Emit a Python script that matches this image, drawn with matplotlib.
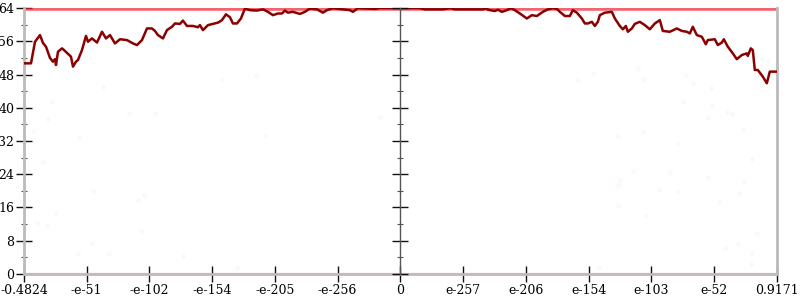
import numpy as np
import matplotlib
matplotlib.use("Agg")
import matplotlib.pyplot as plt
from matplotlib.ticker import MultipleLocator

# x positions are in tick-slot units (-6 .. 6), labels are the original strings
tick_pos = [-6, -5, -4, -3, -2, -1, 0, 1, 2, 3, 4, 5, 6]
tick_labels = ["-0.4824", "-e-51", "-e-102", "-e-154", "-e-205", "-e-256", "0",
               "e-257", "e-206", "e-154", "e-103", "e-52", "0.9171"]

# main dark-red line (x in pixels of the original)
line_px = [24, 31, 35, 40, 43, 46, 50, 53, 55, 56, 58, 62, 64, 67, 71, 73, 76, 78,
           82, 86, 88, 92, 97, 102, 106, 110, 115, 120, 127, 133, 137, 142, 147,
           152, 155, 158, 163, 167, 172, 175, 180, 183, 187, 193, 198, 200, 203,
           208, 213, 218, 222, 226, 230, 233, 237, 241, 245, 250, 257, 263, 268,
           273, 278, 282, 285, 288, 293, 300, 305, 310, 317, 323, 327, 333, 350,
           353, 358, 375, 380, 400, 420, 425, 433, 443, 450, 455, 477, 483, 487,
           488, 495, 498, 502, 507, 511, 515, 520, 527, 532, 537, 543, 548, 553,
           557, 560, 565, 570, 573, 577, 582, 585, 588, 592, 595, 598, 600, 605,
           612, 615, 620, 623, 626, 628, 632, 635, 640, 645, 650, 655, 660, 663,
           670, 677, 682, 687, 690, 693, 697, 702, 706, 708, 715, 718, 722, 724,
           728, 733, 737, 742, 747, 748, 751, 753, 755, 758, 763, 767, 770, 777]
line_val = [50.7, 50.7, 55.9, 57.5, 55.6, 54.7, 52.0, 51.1, 51.7, 50.3, 53.5, 54.3,
            53.9, 53.2, 52.3, 49.9, 51.1, 51.5, 53.9, 57.3, 55.9, 56.7, 55.7, 58.3,
            56.7, 57.5, 55.5, 56.5, 56.3, 55.5, 55.1, 56.3, 59.1, 59.1, 58.5, 57.5,
            56.7, 58.7, 59.5, 60.3, 60.2, 61.0, 59.7, 59.7, 59.4, 59.9, 58.7, 59.9,
            60.2, 60.5, 61.1, 62.5, 61.8, 60.3, 60.3, 61.5, 63.9, 63.5, 63.4, 63.7,
            63.1, 62.3, 62.7, 62.7, 63.4, 62.9, 63.1, 62.6, 63.1, 63.9, 63.7, 62.9,
            63.5, 64.0, 63.5, 63.1, 64.0, 63.8, 64.0, 64.0, 64.0, 63.7, 63.7, 63.7,
            64.0, 63.7, 63.7, 63.7, 64.0, 63.6, 63.3, 63.6, 63.1, 63.5, 64.0, 63.5,
            62.7, 61.5, 62.3, 62.1, 63.1, 63.7, 64.0, 63.8, 63.1, 62.1, 62.1, 63.5,
            62.9, 61.5, 60.3, 60.3, 60.7, 59.7, 60.7, 62.3, 62.9, 63.1, 61.5, 59.7,
            58.9, 59.7, 58.3, 59.1, 60.2, 60.7, 59.9, 58.9, 60.3, 61.1, 58.5, 58.3,
            59.1, 58.5, 58.3, 57.9, 59.5, 57.5, 57.1, 55.3, 56.3, 56.5, 55.1, 55.7,
            56.5, 54.7, 53.1, 51.7, 52.7, 53.1, 52.5, 54.3, 53.9, 49.1, 49.1, 47.5,
            45.9, 48.7, 48.7]

# faint pink scatter (x in pixels of the original)
dots_px = [52, 48, 33, 79, 43, 129, 155, 93, 138, 144, 56, 37, 47, 141, 683, 712,
           727, 732, 708, 618, 643, 743, 678, 752, 633, 670, 708, 620, 618, 744,
           659, 678, 739, 719, 618, 646, 757, 762, 768, 638, 643, 686, 693, 711,
           593, 578, 222, 256, 30, 92, 78, 109, 183, 237, 725, 738, 752, 751, 599,
           265, 380, 103]
dots_val = [41.4, 37.3, 34.4, 33.0, 26.9, 38.7, 38.7, 20.0, 17.8, 19.0, 14.7, 12.3,
            11.8, 10.3, 41.4, 40.7, 39.0, 38.5, 37.5, 33.2, 34.2, 34.9, 31.5, 27.7,
            24.8, 24.3, 23.3, 22.6, 21.4, 22.1, 20.2, 19.7, 19.5, 17.3, 16.4, 14.0,
            9.9, 51.7, 51.2, 49.3, 46.9, 47.9, 46.0, 44.8, 48.4, 46.7, 46.9, 47.6,
            7.7, 7.5, 4.8, 4.8, 4.3, 1.4, 6.3, 7.2, 5.0, 2.4, 1.7, 33.5, 37.8, 45.0]

# saturated rows along the top and bottom
band_x = [-6, 6]
band_top = [64, 64]
band_bottom = [0, 0]


def px_to_u(px):
    return (np.asarray(px, dtype=float) - 400.5) / 62.75


plt.rcParams['font.family'] = ['DejaVu Serif']
fig = plt.figure(figsize=(8, 3), dpi=100)
ax = fig.add_axes([0.03, 0.087, 0.941, 0.886])

ax.scatter(px_to_u(dots_px), dots_val, s=12, color='#f7b8c4', alpha=0.12,
           linewidths=0, zorder=1)
ax.plot(band_x, band_top, color='#ee2233', alpha=0.7, lw=4, zorder=2)
ax.plot(band_x, band_bottom, color='#ee3344', alpha=0.18, lw=2.5, zorder=2)
ax.plot(px_to_u(line_px), line_val, color='#8b0000', lw=1.8, zorder=3)

ax.set_xlim(-6, 6)
ax.set_ylim(0, 64)
ax.set_xticks(tick_pos)
ax.set_xticklabels(tick_labels)
ax.yaxis.set_major_locator(MultipleLocator(8))
ax.yaxis.set_minor_locator(MultipleLocator(4))

ax.spines['top'].set_visible(False)
for s in ['left', 'right', 'bottom']:
    ax.spines[s].set_color('#bbbbbb')
    ax.spines[s].set_linewidth(2)

ax.tick_params(axis='both', which='major', direction='inout', length=11,
               width=1, color='#111111', labelsize=9, pad=1.5)
ax.tick_params(axis='y', which='minor', direction='inout', length=5, width=0.8,
               color='#555555')
ax.tick_params(axis='y', right=True, which='both')
ax.tick_params(axis='y', labelright=False)

# center vertical axis at x = 0
ax2 = ax.twinx()
ax2.set_ylim(0, 64)
for s in ['top', 'right', 'bottom']:
    ax2.spines[s].set_visible(False)
ax2.spines['left'].set_position(('data', 0))
ax2.spines['left'].set_color('#555555')
ax2.spines['left'].set_linewidth(1)
ax2.yaxis.set_ticks_position('left')
ax2.yaxis.set_major_locator(MultipleLocator(8))
ax2.yaxis.set_minor_locator(MultipleLocator(4))
ax2.tick_params(axis='y', which='major', direction='inout', length=11, width=1,
                color='#111111', labelleft=False)
ax2.tick_params(axis='y', which='minor', direction='inout', length=5, width=0.8,
                color='#555555')
ax2.patch.set_visible(False)

fig.savefig('out.png', dpi=100)
